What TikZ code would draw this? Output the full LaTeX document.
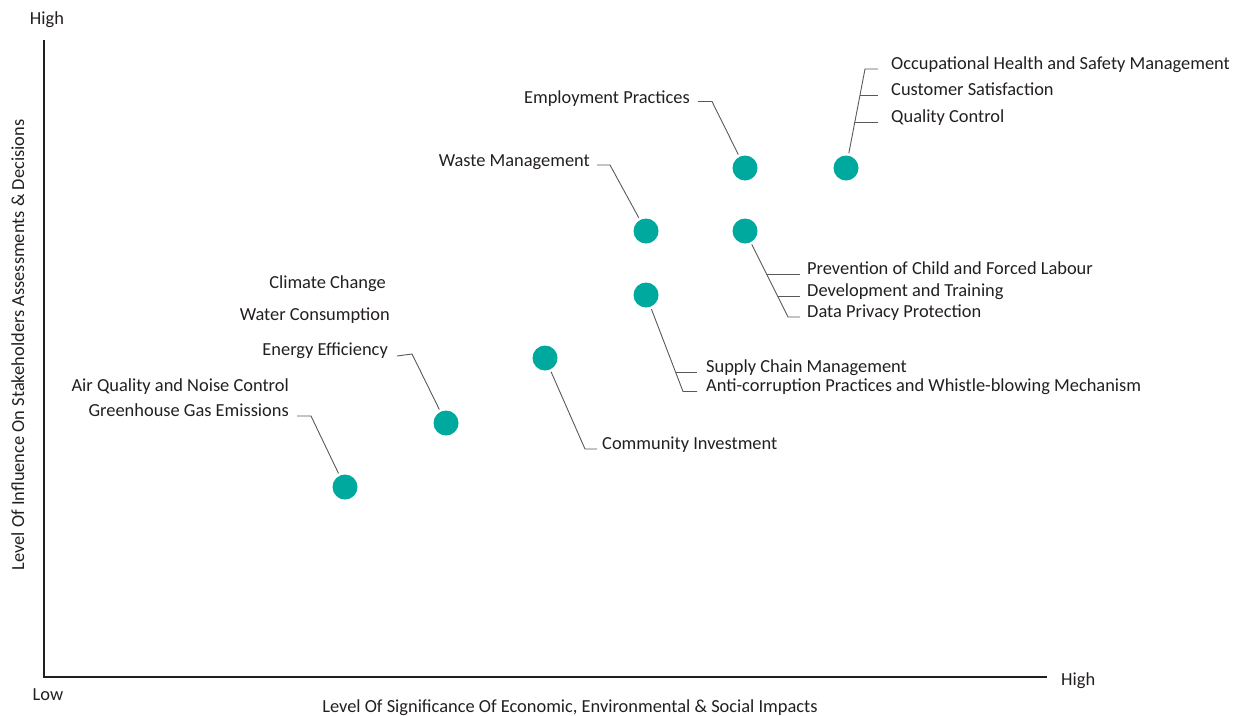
\documentclass[tikz,border=0pt]{standalone}
\usepackage{fontspec}
\setmainfont{Carlito}
\usetikzlibrary{calc}
\definecolor{teal1}{HTML}{00A99D}
\definecolor{ink}{HTML}{231F20}
\definecolor{leadc}{HTML}{58595B}
\begin{document}
\begin{tikzpicture}[x=1pt,y=-1pt,
  dot/.style={circle,fill=teal1,minimum size=25pt,inner sep=0pt,outer sep=2.5pt},
  lbl/.style={inner sep=0pt,font=\fontsize{18.4}{20}\selectfont,text=ink},
  leader/.style={draw=leadc,line width=0.9pt},
  axis/.style={draw=ink,line width=1.7pt,line join=miter}]
\useasboundingbox (0,0) rectangle (1233,715);
% axes
\coordinate (ytop) at (44,40);
\coordinate (origin) at (44,677);
\coordinate (xend) at (1047,677);
\draw[axis] (ytop) -- (origin) -- (xend);
\node[lbl,anchor=base] (yhigh) at (47,24) {High};
\node[lbl,anchor=base] (low) at (48,700) {Low};
\node[lbl,anchor=base west] (xhigh) at (1061,685) {High};
\node[lbl,anchor=base] (xlab) at (570,712) {Level Of Significance Of Economic, Environmental \& Social Impacts};
\node[lbl,anchor=base,rotate=90] (ylab) at (24,345) {Level Of Influence On Stakeholders Assessments \& Decisions};
% dots
\node[dot] (c1) at (345,487) {};
\node[dot] (c2) at (446,423) {};
\node[dot] (c3) at (545,358) {};
\node[dot] (c4) at (646,295) {};
\node[dot] (c5) at (646,231) {};
\node[dot] (c6) at (745,231) {};
\node[dot] (c7) at (745,168) {};
\node[dot] (c8) at (846,168) {};
% top right group
\node[lbl,anchor=base west] (occ) at (891,69) {Occupational Health and Safety Management};
\node[lbl,anchor=base west] (cus) at (891,95.5) {Customer Satisfaction};
\node[lbl,anchor=base west] (qc) at (891,122) {Quality Control};
\coordinate (occb) at (865,69);
\coordinate (cusb) at (859.9,95.5);
\coordinate (qcb) at (854.8,122);
\draw[leader] (c8) -- (occb) -- ($(occ.base west)+(-13,0)$);
\draw[leader] (cusb) -- ($(cus.base west)+(-13,0)$);
\draw[leader] (qcb) -- ($(qc.base west)+(-13,0)$);
% employment
\node[lbl,anchor=base east] (emp) at (690,103) {Employment Practices};
\coordinate (empb) at (712,101.5);
\draw[leader] (c7) -- (empb) -- ($(emp.base east)+(8,-1.5)$);
% waste
\node[lbl,anchor=base east] (waste) at (590,166) {Waste Management};
\coordinate (wasteb) at (610,165);
\draw[leader] (c5) -- (wasteb) -- ($(waste.base east)+(7,-1)$);
% F group
\node[lbl,anchor=base west] (prev) at (807,274) {Prevention of Child and Forced Labour};
\node[lbl,anchor=base west] (dev) at (807,296) {Development and Training};
\node[lbl,anchor=base west] (data) at (807,317) {Data Privacy Protection};
\coordinate (datab) at (788,317);
\coordinate (prevb) at (766.5,274);
\coordinate (devb) at (777.5,296);
\draw[leader] (c6) -- (datab) -- ($(data.base west)+(-7,0)$);
\draw[leader] (prevb) -- ($(prev.base west)+(-7,0)$);
\draw[leader] (devb) -- ($(dev.base west)+(-7,0)$);
% D group
\node[lbl,anchor=base west] (supply) at (706,372) {Supply Chain Management};
\node[lbl,anchor=base west] (anti) at (706,391.5) {Anti-corruption Practices and Whistle-blowing Mechanism};
\coordinate (antib) at (683,391.5);
\coordinate (supplyb) at (675.5,372);
\draw[leader] (c4) -- (antib) -- ($(anti.base west)+(-9,0)$);
\draw[leader] (supplyb) -- ($(supply.base west)+(-9,0)$);
% community
\node[lbl,anchor=base west] (comm) at (602,449) {Community Investment};
\coordinate (commb) at (585,449);
\draw[leader] (c3) -- (commb) -- ($(comm.base west)+(-5,0)$);
% left labels
\node[lbl,anchor=base east] (climate) at (386,288) {Climate Change};
\node[lbl,anchor=base east] (water) at (390,320) {Water Consumption};
\node[lbl,anchor=base east] (energy) at (388,355) {Energy Efficiency};
\coordinate (energyb) at (412,354);
\draw[leader] (c2) -- (energyb) -- ($(energy.base east)+(9,1)$);
\node[lbl,anchor=base east] (air) at (289,391) {Air Quality and Noise Control};
\node[lbl,anchor=base east] (ghg) at (289,416) {Greenhouse Gas Emissions};
\coordinate (ghgb) at (311,416);
\draw[leader] (c1) -- (ghgb) -- ($(ghg.base east)+(8,0)$);
\end{tikzpicture}
\end{document}
